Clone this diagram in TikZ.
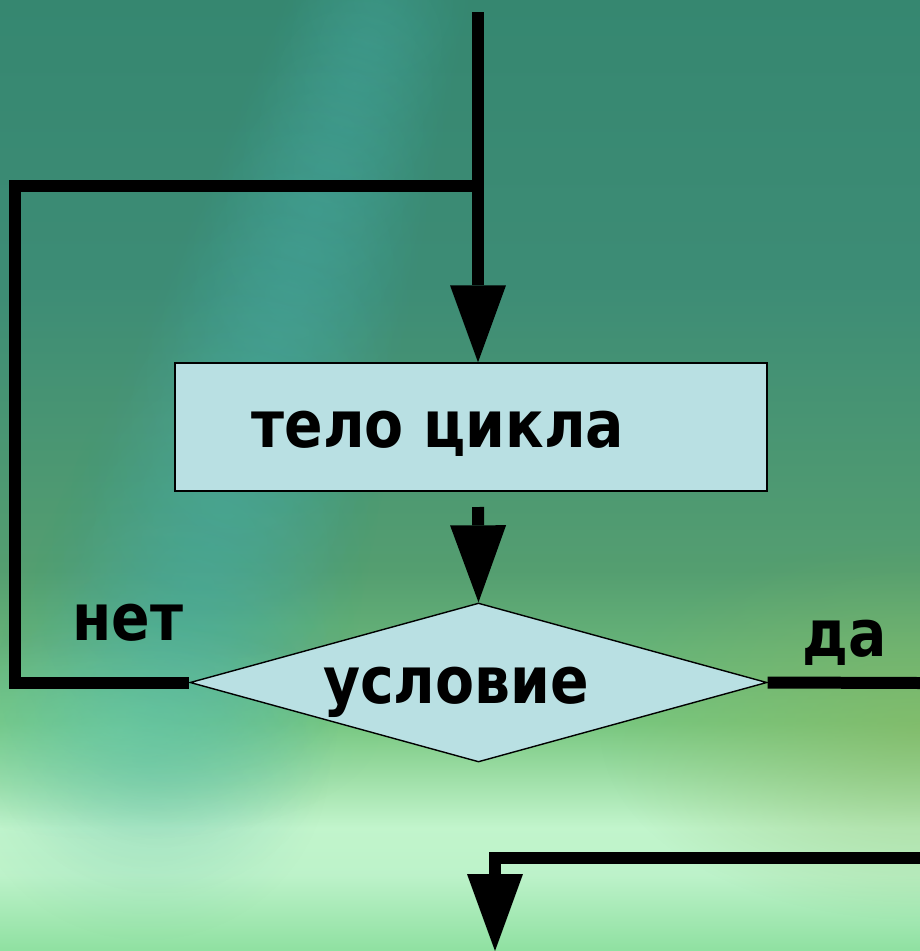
\documentclass[tikz,border=0pt]{standalone}
\usepackage{fontspec}
\setmainfont{DejaVu Sans}[FakeStretch=0.875]
\usetikzlibrary{shapes.geometric,arrows.meta,fadings}
\definecolor{boxfill}{HTML}{B9E0E3}
\definecolor{streak}{HTML}{48ADA8}
\definecolor{mint}{HTML}{74D6AE}
\definecolor{grass}{HTML}{88B45C}
\pgfdeclareverticalshading{backdrop}{100bp}{
  rgb(0bp)=(0.56,0.88,0.63);
  rgb(25bp)=(0.56,0.88,0.63);
  rgb(29bp)=(0.74,0.95,0.79);
  rgb(31.5bp)=(0.76,0.96,0.80);
  rgb(37bp)=(0.47,0.78,0.50);
  rgb(45bp)=(0.33,0.62,0.44);
  rgb(60bp)=(0.24,0.55,0.46);
  rgb(75bp)=(0.21,0.53,0.44);
  rgb(100bp)=(0.21,0.53,0.44)}
\tikzfading[name=softspot, inner color=transparent!0, outer color=transparent!100]

\begin{document}
\begin{tikzpicture}[x=0.02cm,y=-0.02cm,
  wire/.style={line width=0.24cm,draw=black,line join=miter},
  flow/.style={wire,-{Triangle[width=1.12cm,length=1.54cm,line width=0pt]}},
  bodybox/.style={draw,line width=0.8pt,fill=boxfill,inner sep=0pt,
    minimum width=11.84cm,minimum height=2.56cm},
  condbox/.style={diamond,draw,line width=0.8pt,fill=boxfill,inner sep=0pt,
    aspect=3.6,minimum width=11.54cm,minimum height=3.18cm},
  lbl/.style={font=\fontsize{37}{44}\selectfont\bfseries,inner sep=0pt,anchor=base}
]
  \useasboundingbox (0,0) rectangle (920,951);
  \clip (0,0) rectangle (920,951);
  \shade[shading=backdrop] (0,0) rectangle (920,951);
  \foreach \k in {0,1,...,18}
    \fill[streak,path fading=softspot,opacity=0.22] ({380-13*\k},{42*\k}) circle ({95+5*\k});
  \fill[mint,path fading=softspot,opacity=0.45] (120,730) ellipse (260 and 110);
  \fill[grass,path fading=softspot,opacity=0.55] (920,730) ellipse (320 and 190);

  \node[bodybox] (body) at (471,427) {};
  \node[condbox] (cond) at (478.5,682.5) {};
  \node[lbl] (bodytext) at (438,447) {тело цикла};
  \node[lbl] (condtext) at (456,703) {условие};
  \node[lbl] (no) at (128,640) {нет};
  \node[lbl] (yes) at (845,656) {да};

  \coordinate (entry) at (478,12);
  \coordinate (split) at (478,186);
  \coordinate (loopcorner) at (15,186);
  \coordinate (below) at (478,507);
  \coordinate (yesend) at (920,683);
  \coordinate (back) at (920,858);
  \coordinate (exit) at (495,951);

  \draw[flow] (entry) -- (entry |- body.north);
  \draw[wire] (split) -- (loopcorner) |- (cond.west);
  \draw[flow] (below) -- (cond.north);
  \draw[wire] (cond.east) -- (yesend);
  \draw[flow] (back) -| (exit);
\end{tikzpicture}
\end{document}
